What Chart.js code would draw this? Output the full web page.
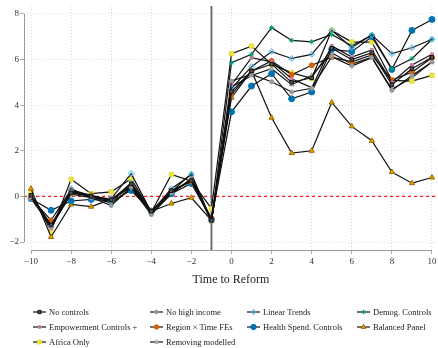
<!DOCTYPE html>
<html>
<head>
<meta charset="utf-8">
<script src="https://cdn.jsdelivr.net/npm/chart.js@4"></script>
<style>
  body { margin: 0; background: #fff; }
  #wrap { position: relative; width: 438px; height: 348px; }
  #legend { position: absolute; left: 0; top: 0; width: 438px; height: 348px; pointer-events: none;
            font: 8.5px 'Liberation Serif', 'Times New Roman', serif; color: #222; }
  .item { position: absolute; height: 12px; line-height: 12px; white-space: nowrap; }
  .item canvas { position: absolute; left: 0; top: 0; }
  .item span { position: absolute; left: 16px; top: 0; }
</style>
</head>
<body>
<div id="wrap">
  <canvas id="chart" width="438" height="348"></canvas>
  <div id="legend"></div>
</div>
<script>
// --- data ---
const periods = [-10, -9, -8, -7, -6, -5, -4, -3, -2, -1, 0, 1, 2, 3, 4, 5, 6, 7, 8, 9, 10];
const xTicks = [-10, -8, -6, -4, -2, 0, 2, 4, 6, 8, 10];
const yTicks = [-2, 0, 2, 4, 6, 8];

const noControls     = [0.05, -1.25, 0.15, 0.0, -0.15, 0.55, -0.65, 0.25, 0.7, -1.05, 4.6, 5.5, 5.8, 5.0, 5.2, 6.5, 6.0, 6.3, 4.9, 5.6, 6.1];
const noHighIncome   = [0.0, -1.35, 0.1, -0.05, -0.4, 0.4, -0.8, 0.15, 0.75, -1.1, 5.06, 5.35, 5.03, 4.58, 4.74, 6.13, 5.72, 6.08, 4.65, 5.3, 5.89];
const linearTrends   = [-0.1, -1.3, 0.34, -0.05, -0.1, 1.0, -0.7, 0.34, 0.95, -1.05, 4.74, 5.69, 6.35, 6.05, 6.23, 7.28, 6.53, 7.08, 6.26, 6.52, 6.89];
const demogControls  = [0.05, -1.3, 0.2, 0.05, -0.2, 0.6, -0.65, 0.2, 1.0, -1.1, 5.86, 6.23, 7.4, 6.84, 6.78, 7.1, 6.6, 7.08, 5.6, 6.04, 6.89];
const empowerment    = [0.0, -1.4, 0.25, 0.0, -0.2, 0.5, -0.7, 0.2, 0.7, -1.0, 4.9, 6.08, 5.9, 5.16, 4.77, 6.6, 6.11, 6.42, 5.0, 5.76, 6.23];
const regionTimeFE   = [-0.06, -1.05, 0.28, 0.05, -0.15, 0.45, -0.65, 0.25, 0.65, -0.95, 4.47, 5.5, 5.94, 5.33, 5.75, 6.11, 5.9, 6.2, 5.1, 5.45, 6.08];
const healthSpend    = [-0.1, -0.61, -0.2, -0.13, -0.2, 0.26, -0.65, 0.12, 0.57, -1.0, 3.71, 4.84, 5.38, 4.28, 4.58, 6.45, 6.35, 7.0, 5.57, 7.28, 7.76];
const balancedPanel  = [0.34, -1.78, -0.35, -0.45, -0.13, 0.4, -0.65, -0.31, -0.06, -1.05, 4.33, 5.5, 3.45, 1.9, 2.0, 4.12, 3.07, 2.44, 1.07, 0.58, 0.83];
const africaOnly     = [0.16, -1.52, 0.75, 0.12, 0.2, 0.77, -0.7, 0.96, 0.67, -0.54, 6.26, 6.59, 5.8, 5.42, 5.18, 7.28, 6.77, 6.77, 5.09, 5.06, 5.31];
const removingModel  = [0.1, -1.3, 0.2, 0.0, -0.3, 0.35, -0.75, 0.1, 0.8, -1.1, 4.8, 5.3, 5.6, 4.9, 5.3, 6.3, 5.8, 6.1, 4.7, 5.2, 5.9];

const series = [
  { label: 'No controls',             data: noControls,    style: 'rect',     fill: '#555555', edge: '#111111', r: 2.5 },
  { label: 'No high income',          data: noHighIncome,  style: 'circle',   fill: '#999999', edge: '#999999', r: 2 },
  { label: 'Linear Trends',           data: linearTrends,  style: 'rectRot',  fill: 'rgba(86,180,233,0.3)', edge: '#56B4E9', r: 3 },
  { label: 'Demog. Controls',         data: demogControls, style: 'star',     fill: '#009E73', edge: '#009E73', r: 2.5 },
  { label: 'Empowerment Controls +',  data: empowerment,   style: 'rect',     fill: '#CC79A7', edge: '#CC79A7', r: 2 },
  { label: 'Region \u00d7 Time FEs',  data: regionTimeFE,  style: 'circle',   fill: '#D55E00', edge: '#D55E00', r: 2.5 },
  { label: 'Health Spend. Controls',  data: healthSpend,   style: 'circle',   fill: '#0072B2', edge: '#0072B2', r: 3 },
  { label: 'Balanced Panel',          data: balancedPanel, style: 'triangle', fill: '#E69F00', edge: '#9a6a00', r: 3 },
  { label: 'Africa Only',             data: africaOnly,    style: 'rect',     fill: '#F0E442', edge: '#E6D830', r: 3 },
  { label: 'Removing modelled',       data: removingModel, style: 'triangle', fill: '#BBBBBB', edge: '#999999', r: 2.5 }
];

const serif = "'Liberation Serif', 'Times New Roman', serif";
const fmt = v => (v < 0 ? '\u2212' + Math.abs(v) : String(v));

// spines, zero line and reform line
const refLines = {
  id: 'refLines',
  beforeDatasetsDraw(chart) {
    const { ctx, chartArea: a, scales: { x, y } } = chart;
    ctx.save();
    // red dashed zero line
    ctx.strokeStyle = '#ff2020';
    ctx.lineWidth = 1.3;
    ctx.setLineDash([3, 3]);
    ctx.beginPath();
    ctx.moveTo(a.left, y.getPixelForValue(0));
    ctx.lineTo(a.right, y.getPixelForValue(0));
    ctx.stroke();
    // reform line at t = -1
    ctx.setLineDash([]);
    ctx.strokeStyle = '#666666';
    ctx.lineWidth = 1.8;
    ctx.beginPath();
    ctx.moveTo(x.getPixelForValue(-1), a.top);
    ctx.lineTo(x.getPixelForValue(-1), a.bottom);
    ctx.stroke();
    // offset spines
    ctx.strokeStyle = '#999999';
    ctx.lineWidth = 1;
    ctx.beginPath();
    ctx.moveTo(a.left + 0.5, y.getPixelForValue(yTicks[0]));
    ctx.lineTo(a.left + 0.5, y.getPixelForValue(yTicks[yTicks.length - 1]));
    ctx.moveTo(x.getPixelForValue(xTicks[0]), a.bottom + 0.5);
    ctx.lineTo(x.getPixelForValue(xTicks[xTicks.length - 1]), a.bottom + 0.5);
    ctx.stroke();
    ctx.restore();
  }
};

const chart = new Chart(document.getElementById('chart'), {
  type: 'line',
  data: {
    datasets: series.map(s => ({
      label: s.label,
      data: periods.map((p, i) => ({ x: p, y: s.data[i] })),
      borderColor: '#111111',
      borderWidth: 1.2,
      pointStyle: s.style,
      pointRadius: s.r,
      pointBackgroundColor: s.fill,
      pointBorderColor: s.edge,
      pointBorderWidth: 1,
      tension: 0
    }))
  },
  options: {
    responsive: false,
    animation: false,
    layout: { autoPadding: false, padding: { top: 6, right: 0, bottom: 52, left: 0 } },
    plugins: { legend: { display: false }, tooltip: { enabled: false } },
    scales: {
      x: {
        type: 'linear',
        min: -10.35,
        max: 10.3,
        afterBuildTicks: s => { s.ticks = xTicks.map(v => ({ value: v })); },
        afterFit: s => { s.height = 46; s.paddingLeft = 0; s.paddingRight = 0; },
        grid: { color: '#d4d4d4', lineWidth: 0.8, tickColor: '#999999', tickLength: 4, drawTicks: true },
        border: { display: false, dash: [1, 2] },
        ticks: { color: '#333', padding: 2, font: { family: serif, size: 9 }, callback: fmt, maxRotation: 0 },
        title: { display: true, text: 'Time to Reform', color: '#222', font: { family: serif, size: 12 }, padding: { top: 2, bottom: 9 } }
      },
      y: {
        min: -2.35,
        max: 8.35,
        afterBuildTicks: s => { s.ticks = yTicks.map(v => ({ value: v })); },
        afterFit: s => { s.width = 24; s.paddingTop = 0; s.paddingBottom = 0; },
        grid: { color: '#d4d4d4', lineWidth: 0.8, tickColor: '#999999', tickLength: 4, drawTicks: true },
        border: { display: false, dash: [1, 2] },
        ticks: { color: '#333', padding: 1, font: { family: serif, size: 9 }, callback: fmt }
      }
    }
  },
  plugins: [refLines]
});

// legend in four columns
const colX = [33, 150, 247, 357];
const rowY = [306, 321, 336];
const legend = document.getElementById('legend');
series.forEach((s, i) => {
  const div = document.createElement('div');
  div.className = 'item';
  div.style.left = colX[i % 4] + 'px';
  div.style.top = rowY[Math.floor(i / 4)] + 'px';
  const c = document.createElement('canvas');
  c.width = 14; c.height = 12;
  const g = c.getContext('2d');
  g.strokeStyle = '#111'; g.lineWidth = 1.2;
  g.beginPath(); g.moveTo(0, 6); g.lineTo(13, 6); g.stroke();
  g.fillStyle = s.fill; g.strokeStyle = s.edge; g.lineWidth = 1;
  Chart.helpers.drawPoint(g, { pointStyle: s.style, radius: s.r * 0.9, borderWidth: 1 }, 6.5, 6);
  const t = document.createElement('span');
  t.textContent = s.label;
  div.appendChild(c); div.appendChild(t);
  legend.appendChild(div);
});
</script>
</body>
</html>
